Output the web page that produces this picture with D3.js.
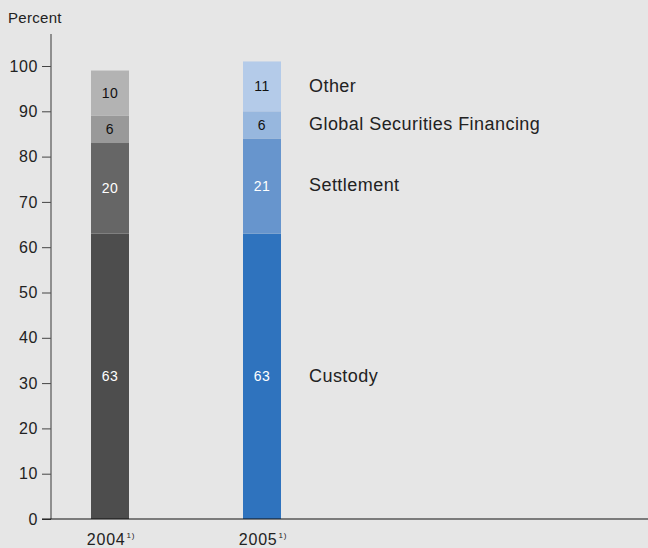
<!DOCTYPE html>
<html>
<head>
<meta charset="utf-8">
<script src="https://cdn.jsdelivr.net/npm/d3@7"></script>
<style>
  body { margin: 0; background: #e6e6e6; }
  svg { display: block; font-family: "Liberation Sans", Arial, sans-serif; }
</style>
</head>
<body>
<div id="viz-container"></div>
<script>
const width = 648, height = 548;

// Données
const years = ["2004", "2005"];
const segments = ["Custody", "Settlement", "Global Securities Financing", "Other"];
const values2004 = [63, 20, 6, 10];
const values2005 = [63, 21, 6, 11];
const yTicks = [0, 10, 20, 30, 40, 50, 60, 70, 80, 90, 100];

const colors2004 = ["#4d4d4d", "#666666", "#999999", "#b3b3b3"];
const colors2005 = ["#2f73be", "#6795cd", "#97b7de", "#b4cbe9"];
const labelColors = ["#ffffff", "#ffffff", "#111111", "#111111"];

const svg = d3.select("#viz-container")
  .append("svg")
  .attr("width", width)
  .attr("height", height);

svg.append("rect").attr("width", width).attr("height", height).attr("fill", "#e6e6e6");

const y = d3.scaleLinear().domain([0, 100]).range([519, 66]);
const x = d3.scaleBand().domain(years).range([91, 281]).paddingInner(0.75).paddingOuter(0);

// Empiler les séries
const rows = years.map((yr, i) => {
  const vals = i === 0 ? values2004 : values2005;
  const cols = i === 0 ? colors2004 : colors2005;
  let acc = 0;
  return vals.map((v, j) => {
    const d = { year: yr, value: v, y0: acc, y1: acc + v, color: cols[j], label: labelColors[j], seg: segments[j] };
    acc += v;
    return d;
  });
}).flat();

svg.selectAll("rect.bar")
  .data(rows)
  .join("rect")
  .attr("class", "bar")
  .attr("x", d => x(d.year))
  .attr("width", x.bandwidth())
  .attr("y", d => y(d.y1))
  .attr("height", d => y(d.y0) - y(d.y1))
  .attr("fill", d => d.color);

svg.selectAll("text.val")
  .data(rows)
  .join("text")
  .attr("class", "val")
  .attr("x", d => x(d.year) + x.bandwidth() / 2)
  .attr("y", d => y((d.y0 + d.y1) / 2))
  .attr("dy", "0.35em")
  .attr("text-anchor", "middle")
  .attr("font-size", 14)
  .attr("letter-spacing", 0.5)
  .attr("fill", d => d.label)
  .text(d => d.value);

// Légende à droite de la barre 2005
svg.selectAll("text.leg")
  .data(rows.filter(d => d.year === "2005"))
  .join("text")
  .attr("class", "leg")
  .attr("x", 309)
  .attr("y", d => y((d.y0 + d.y1) / 2) - 1)
  .attr("dy", "0.35em")
  .attr("font-size", 18)
  .attr("letter-spacing", 0.45)
  .attr("fill", "#222")
  .text(d => d.seg);

// Axe Y
const yAxis = svg.append("g")
  .attr("transform", "translate(51,0)")
  .call(d3.axisLeft(y).tickValues(yTicks).tickSize(9).tickPadding(4));
yAxis.select(".domain").remove();
yAxis.selectAll("line").attr("stroke", "#444");
yAxis.selectAll("text")
  .attr("font-size", 16)
  .attr("letter-spacing", 0.6)
  .attr("fill", "#222")
  .attr("font-family", "Liberation Sans, Arial, sans-serif");

svg.append("line")
  .attr("x1", 51).attr("x2", 51).attr("y1", 34).attr("y2", 519)
  .attr("stroke", "#555").attr("stroke-width", 1.2);

svg.append("line")
  .attr("x1", 42).attr("x2", width).attr("y1", 519).attr("y2", 519)
  .attr("stroke", "#111").attr("stroke-width", 1.2);

svg.append("text")
  .attr("x", 8).attr("y", 23)
  .attr("font-size", 15).attr("letter-spacing", 0.3).attr("fill", "#222")
  .text("Percent");

// Catégories avec note 1)
const cat = svg.selectAll("text.cat")
  .data(years)
  .join("text")
  .attr("class", "cat")
  .attr("x", d => x(d) + x.bandwidth() / 2 + 1)
  .attr("y", 545)
  .attr("text-anchor", "middle")
  .attr("font-size", 16)
  .attr("letter-spacing", 0.8)
  .attr("fill", "#222");
cat.append("tspan").text(d => d);
cat.append("tspan").attr("font-size", 8).attr("dx", 1).attr("dy", -7).text("1)");
</script>
</body>
</html>
